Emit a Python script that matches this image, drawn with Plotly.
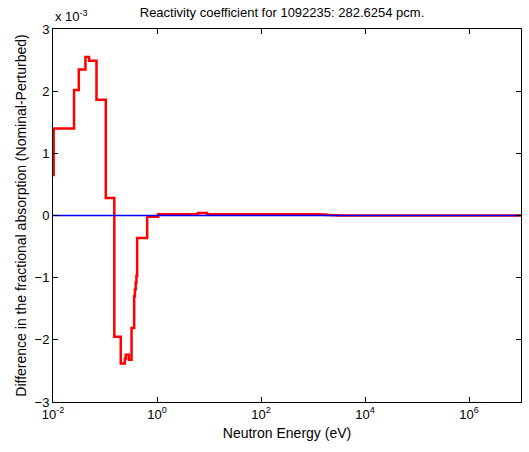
import plotly.graph_objects as go

# Energy group edges (eV) and per-group difference values (x 1e-3)
energy_edges = [0.0099, 0.0103, 0.0254, 0.0313, 0.0421, 0.0494, 0.0686, 0.1036,
                0.151, 0.201, 0.241, 0.251, 0.287, 0.324, 0.364, 0.376, 0.389,
                0.402, 0.415, 0.647, 1.055, 6.14, 9.14, 1377, 1800, 2300, 2925, 1e7]
diff_values = [0.65, 1.40, 2.02, 2.35, 2.55, 2.49, 1.86, 0.28,
               -1.95, -2.38, -2.30, -2.24, -2.32, -1.81,
               -1.30, -1.19, -1.08, -0.97,
               -0.36, -0.02, 0.02, 0.04, 0.02,
               0.015, 0.01, 0.005, 0.0]

zero_x = [1e-2, 1e7]
zero_y = [0, 0]

x_tickvals = [1e-2, 1e0, 1e2, 1e4, 1e6]
x_ticktext = ['10<sup>-2</sup>', '10<sup>0</sup>', '10<sup>2</sup>', '10<sup>4</sup>', '10<sup>6</sup>']
y_tickvals = [-3, -2, -1, 0, 1, 2, 3]

font_family = "Liberation Sans, Arial, sans-serif"

W, H = 529, 452

fig = go.Figure()
fig.add_trace(go.Scatter(
    x=energy_edges, y=diff_values + [diff_values[-1]],
    mode='lines', line=dict(color='#ff0000', width=2.5, shape='hv'),
    showlegend=False, hoverinfo='skip'))
fig.add_trace(go.Scatter(
    x=zero_x, y=zero_y, mode='lines',
    line=dict(color='#0000ff', width=1.3), showlegend=False, hoverinfo='skip'))

axis_common = dict(
    showline=True, linecolor='black', linewidth=1, mirror='ticks', automargin=False,
    ticks='inside', ticklen=5, tickcolor='black', showgrid=False, zeroline=False,
    tickfont=dict(family=font_family, size=13, color='black'))

fig.update_layout(
    width=W, height=H,
    margin=dict(l=53, r=8, t=29, b=50),
    paper_bgcolor='white', plot_bgcolor='white',
    font=dict(family=font_family, size=13, color='black'),
    title=dict(text='Reactivity coefficient for 1092235: 282.6254 pcm.',
               x=282 / W, xanchor='center',
               y=1 - 12 / H, yanchor='middle',
               font=dict(family=font_family, size=13, color='black')),
    xaxis=dict(type='log', range=[-2, 7], tickvals=x_tickvals, ticktext=x_ticktext,
               title=dict(text='Neutron Energy (eV)', standoff=7,
                          font=dict(family=font_family, size=14)),
               **axis_common),
    yaxis=dict(range=[-3, 3], tickvals=y_tickvals,
               title=dict(text='Difference in the fractional absorption (Nominal-Perturbed)',
                          standoff=4, font=dict(family=font_family, size=14)),
               **axis_common),
    annotations=[dict(text='x 10<sup>-3</sup>', xref='paper', yref='paper',
                      x=0, y=1, xanchor='left', yanchor='bottom', yshift=3,
                      showarrow=False, font=dict(family=font_family, size=13))],
)

fig.write_html("out.html", config={'displayModeBar': False},
               post_script="document.body.style.margin='0';document.body.style.overflow='hidden';")
